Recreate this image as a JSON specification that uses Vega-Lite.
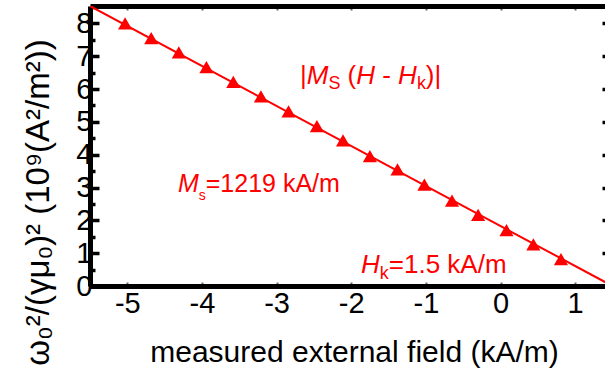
{
  "$schema": "https://vega.github.io/schema/vega-lite/v6.json",
  "width": 515,
  "height": 280,
  "autosize": {"type": "none"},
  "padding": {"left": 90, "top": 6, "right": 0, "bottom": 90},
  "background": "white",
  "config": {"view": {"stroke": null}, "font": "Liberation Sans"},
  "data": {"values": [{}]},
  "datasets": {
    "points": [
      {"H": -5.03, "w": 8.00}, {"H": -4.68, "w": 7.55}, {"H": -4.31, "w": 7.12},
      {"H": -3.94, "w": 6.67}, {"H": -3.58, "w": 6.22}, {"H": -3.21, "w": 5.78},
      {"H": -2.84, "w": 5.32}, {"H": -2.46, "w": 4.87}, {"H": -2.11, "w": 4.44},
      {"H": -1.75, "w": 3.96}, {"H": -1.38, "w": 3.55}, {"H": -1.02, "w": 3.09},
      {"H": -0.65, "w": 2.60}, {"H": -0.30, "w": 2.17}, {"H": 0.08, "w": 1.70},
      {"H": 0.44, "w": 1.27}, {"H": 0.81, "w": 0.82}
    ],
    "fit": [{"H": -5.5, "w": 8.53}, {"H": 1.5, "w": 0}]
  },
  "resolve": {"axis": {"x": "independent", "y": "independent"}},
  "layer": [
    {
      "data": {"name": "fit"},
      "mark": {"type": "line", "color": "#ff0000", "strokeWidth": 2, "clip": true},
      "encoding": {
        "x": {
          "field": "H", "type": "quantitative",
          "scale": {"domain": [-5.5, 1.4], "nice": false, "zero": false},
          "axis": {
            "orient": "bottom", "values": [-5, -4, -3, -2, -1, 0, 1],
            "grid": false, "domainColor": "black", "domainWidth": 5,
            "tickColor": "#666", "tickSize": -4, "tickWidth": 2,
            "labelExpr": "'' + datum.value", "labelFontSize": 29, "labelColor": "black",
            "labelFont": "Liberation Sans", "labelPadding": 7, "labelFlush": false, "labelOverlap": false,
            "title": "measured external field (kA/m)", "titleFontSize": 30, "titleFontWeight": "normal",
            "titleColor": "black", "titleFont": "Liberation Sans",
            "titleX": 264, "titleY": 75, "titleBaseline": "alphabetic", "titleAlign": "center"
          }
        },
        "y": {
          "field": "w", "type": "quantitative",
          "scale": {"domain": [0, 8.53], "nice": false, "zero": false},
          "axis": {
            "orient": "left", "values": [0, 0.5, 1, 1.5, 2, 2.5, 3, 3.5, 4, 4.5, 5, 5.5, 6, 6.5, 7, 7.5, 8, 8.5],
            "grid": false, "domainColor": "black", "domainWidth": 5,
            "tickColor": "black", "tickWidth": 3.5,
            "tickSize": {"condition": {"test": "datum.value % 1 === 0", "value": -9}, "value": -5},
            "labelExpr": "datum.value % 1 === 0 ? '' + datum.value : ''",
            "labelFontSize": 29, "labelColor": "black", "labelFont": "Liberation Sans",
            "labelPadding": 7, "labelFlush": false, "labelOverlap": false,
            "title": "ω₀²/(γμ₀)² (10⁹(A²/m²))", "titleFontSize": 33, "titleFontWeight": "normal",
            "titleColor": "black", "titleFont": "Liberation Sans",
            "titleX": -42, "titleY": 196, "titleBaseline": "alphabetic", "titleAlign": "center", "titleAngle": -90
          }
        }
      }
    },
    {
      "data": {"name": "points"},
      "mark": {"type": "point", "shape": "triangle-up", "filled": true, "color": "#ff0000", "opacity": 1, "size": 200},
      "encoding": {
        "x": {
          "field": "H", "type": "quantitative",
          "axis": {
            "orient": "top", "values": [-5, -4, -3, -2, -1, 0, 1], "labels": false, "title": null,
            "grid": false, "domainColor": "black", "domainWidth": 5,
            "tickColor": "#666", "tickSize": -4, "tickWidth": 2
          }
        },
        "y": {
          "field": "w", "type": "quantitative",
          "axis": {
            "orient": "right", "values": [0, 1, 2, 3, 4, 5, 6, 7, 8], "labels": false, "title": null,
            "grid": false, "domain": false, "tickColor": "black", "tickSize": -3, "tickWidth": 3.5
          }
        }
      }
    },
    {"mark": {"type": "text", "text": "|", "align": "left", "baseline": "alphabetic", "fontSize": 26, "color": "#ff0000"},
     "encoding": {"x": {"datum": -2.687, "type": "quantitative", "axis": null}, "y": {"datum": 6.153, "type": "quantitative", "axis": null}}},
    {"mark": {"type": "text", "text": "M", "align": "left", "baseline": "alphabetic", "fontSize": 26, "fontStyle": "italic", "color": "#ff0000"},
     "encoding": {"x": {"datum": -2.596, "type": "quantitative", "axis": null}, "y": {"datum": 6.153, "type": "quantitative", "axis": null}}},
    {"mark": {"type": "text", "text": "S", "align": "left", "baseline": "alphabetic", "fontSize": 18, "color": "#ff0000"},
     "encoding": {"x": {"datum": -2.306, "type": "quantitative", "axis": null}, "y": {"datum": 6.0, "type": "quantitative", "axis": null}}},
    {"mark": {"type": "text", "text": "(", "align": "left", "baseline": "alphabetic", "fontSize": 26, "color": "#ff0000"},
     "encoding": {"x": {"datum": -2.049, "type": "quantitative", "axis": null}, "y": {"datum": 6.153, "type": "quantitative", "axis": null}}},
    {"mark": {"type": "text", "text": "H", "align": "left", "baseline": "alphabetic", "fontSize": 26, "fontStyle": "italic", "color": "#ff0000"},
     "encoding": {"x": {"datum": -1.933, "type": "quantitative", "axis": null}, "y": {"datum": 6.153, "type": "quantitative", "axis": null}}},
    {"mark": {"type": "text", "text": "-", "align": "left", "baseline": "alphabetic", "fontSize": 26, "color": "#ff0000"},
     "encoding": {"x": {"datum": -1.584, "type": "quantitative", "axis": null}, "y": {"datum": 6.153, "type": "quantitative", "axis": null}}},
    {"mark": {"type": "text", "text": "H", "align": "left", "baseline": "alphabetic", "fontSize": 26, "fontStyle": "italic", "color": "#ff0000"},
     "encoding": {"x": {"datum": -1.372, "type": "quantitative", "axis": null}, "y": {"datum": 6.153, "type": "quantitative", "axis": null}}},
    {"mark": {"type": "text", "text": "k", "align": "left", "baseline": "alphabetic", "fontSize": 18, "color": "#ff0000"},
     "encoding": {"x": {"datum": -1.12, "type": "quantitative", "axis": null}, "y": {"datum": 6.0, "type": "quantitative", "axis": null}}},
    {"mark": {"type": "text", "text": ")|", "align": "left", "baseline": "alphabetic", "fontSize": 26, "color": "#ff0000"},
     "encoding": {"x": {"datum": -1.0, "type": "quantitative", "axis": null}, "y": {"datum": 6.153, "type": "quantitative", "axis": null}}},
    {"mark": {"type": "text", "text": "M", "align": "left", "baseline": "alphabetic", "fontSize": 25, "fontStyle": "italic", "color": "#ff0000"},
     "encoding": {"x": {"datum": -4.321, "type": "quantitative", "axis": null}, "y": {"datum": 2.863, "type": "quantitative", "axis": null}}},
    {"mark": {"type": "text", "text": "s", "align": "left", "baseline": "alphabetic", "fontSize": 14, "color": "#ff0000"},
     "encoding": {"x": {"datum": -4.042, "type": "quantitative", "axis": null}, "y": {"datum": 2.62, "type": "quantitative", "axis": null}}},
    {"mark": {"type": "text", "text": "=1219 kA/m", "align": "left", "baseline": "alphabetic", "fontSize": 25, "color": "#ff0000"},
     "encoding": {"x": {"datum": -3.949, "type": "quantitative", "axis": null}, "y": {"datum": 2.863, "type": "quantitative", "axis": null}}},
    {"mark": {"type": "text", "text": "H", "align": "left", "baseline": "alphabetic", "fontSize": 26, "fontStyle": "italic", "color": "#ff0000"},
     "encoding": {"x": {"datum": -1.869, "type": "quantitative", "axis": null}, "y": {"datum": 0.396, "type": "quantitative", "axis": null}}},
    {"mark": {"type": "text", "text": "k", "align": "left", "baseline": "alphabetic", "fontSize": 18, "color": "#ff0000"},
     "encoding": {"x": {"datum": -1.6175, "type": "quantitative", "axis": null}, "y": {"datum": 0.213, "type": "quantitative", "axis": null}}},
    {"mark": {"type": "text", "text": "=1.5 kA/m", "align": "left", "baseline": "alphabetic", "fontSize": 26, "color": "#ff0000"},
     "encoding": {"x": {"datum": -1.497, "type": "quantitative", "axis": null}, "y": {"datum": 0.396, "type": "quantitative", "axis": null}}}
  ]
}
